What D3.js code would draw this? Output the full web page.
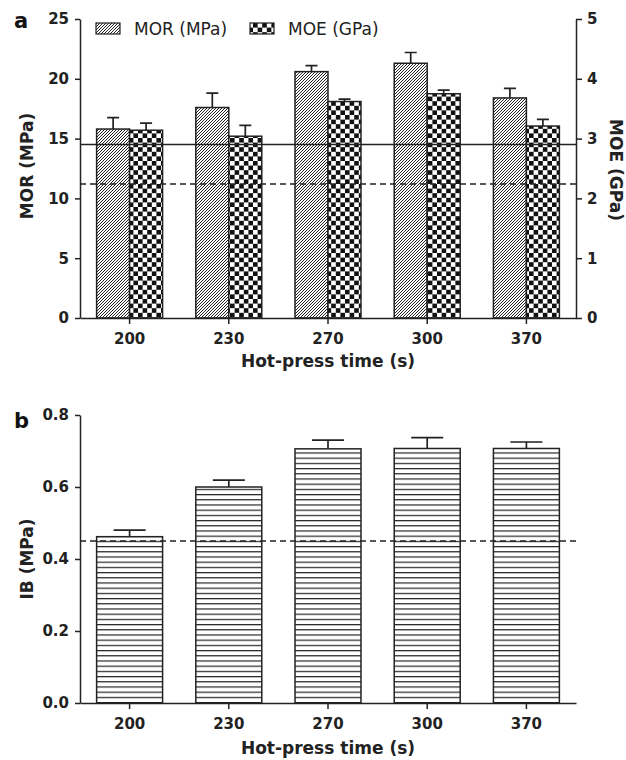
<!DOCTYPE html>
<html>
<head>
<meta charset="utf-8">
<script src="https://cdn.jsdelivr.net/npm/d3@7"></script>
<style>
  body { margin: 0; background: #fff; }
  svg { display: block; }
  .axis path, .axis line { stroke: #222; stroke-width: 1.5; }
  .axis text { font-family: "DejaVu Sans", sans-serif; font-weight: bold; font-size: 15px; fill: #222; }
  .title { font-family: "DejaVu Sans", sans-serif; font-weight: bold; font-size: 17px; fill: #222; }
  .panel { font-family: "DejaVu Sans", sans-serif; font-weight: bold; font-size: 21px; fill: #111; }
  .legend { font-family: "DejaVu Sans", sans-serif; font-size: 17px; fill: #222; }
</style>
</head>
<body>
<script>
// hot-press time groups
var times = ["200", "230", "270", "300", "370"];

// panel a
var morMean = [15.8, 17.6, 20.6, 21.3, 18.4];
var morErr = [0.95, 1.2, 0.5, 0.9, 0.8];
var moeMean = [3.14, 3.04, 3.62, 3.75, 3.21];
var moeErr = [0.12, 0.18, 0.04, 0.06, 0.11];
var morTicks = [0, 5, 10, 15, 20, 25];
var moeTicks = [0, 1, 2, 3, 4, 5];
var morLimit = 14.5;   // solid line, MOR axis
var moeLimit = 2.24;   // dashed line, MOE axis

// panel b
var ibMean = [0.462, 0.60, 0.706, 0.707, 0.707];
var ibErr = [0.018, 0.019, 0.024, 0.03, 0.018];
var ibTicks = [0, 0.2, 0.4, 0.6, 0.8];
var ibLimit = 0.45;

var width = 626, height = 760;
var left = 80, right = 576;

var svg = d3.select("body").append("svg")
  .attr("width", width)
  .attr("height", height);

// fill patterns
var defs = svg.append("defs");

defs.append("pattern")
  .attr("id", "diag")
  .attr("patternUnits", "userSpaceOnUse")
  .attr("width", 3).attr("height", 3)
  .append("path")
  .attr("d", "M-0.75,0.75 l1.5,-1.5 M0,3 l3,-3 M2.25,3.75 l1.5,-1.5")
  .attr("stroke", "#222")
  .attr("stroke-width", 1);

var checker = defs.append("pattern")
  .attr("id", "checker")
  .attr("patternUnits", "userSpaceOnUse")
  .attr("width", 9.2).attr("height", 9.2);
checker.append("rect").attr("width", 9.2).attr("height", 9.2).attr("fill", "#fff");
checker.append("rect").attr("width", 4.6).attr("height", 4.6).attr("fill", "#111");
checker.append("rect").attr("x", 4.6).attr("y", 4.6).attr("width", 4.6).attr("height", 4.6).attr("fill", "#111");

var horiz = defs.append("pattern")
  .attr("id", "horiz")
  .attr("patternUnits", "userSpaceOnUse")
  .attr("width", 6).attr("height", 5.2);
horiz.append("rect").attr("width", 6).attr("height", 5.2).attr("fill", "#fff");
horiz.append("line")
  .attr("x1", 0).attr("x2", 6).attr("y1", 0.6).attr("y2", 0.6)
  .attr("stroke", "#222").attr("stroke-width", 1.2);

// shared x band scale
var x = d3.scaleBand()
  .domain(times)
  .range([left, right])
  .paddingInner(0.335)
  .paddingOuter(0.1675);

function errorBars(g, data, xc, y, half) {
  g.selectAll(null)
    .data(data)
    .enter().append("path")
    .attr("d", function (d) {
      var cx = xc(d), y0 = y(d.v), y1 = y(d.v + d.e);
      return "M" + cx + "," + y0 + "V" + y1 + "M" + (cx - half) + "," + y1 + "H" + (cx + half);
    })
    .attr("fill", "none")
    .attr("stroke", "#222")
    .attr("stroke-width", 1.7);
}

// ---------- panel a ----------
var yMor = d3.scaleLinear().domain([0, 25]).range([318, 19]);
var yMoe = d3.scaleLinear().domain([0, 5]).range([318, 19]);
var sub = x.bandwidth() / 2;

var gA = svg.append("g");

var morData = times.map(function (t, i) { return { t: t, v: morMean[i], e: morErr[i] }; });
var moeData = times.map(function (t, i) { return { t: t, v: moeMean[i], e: moeErr[i] }; });

errorBars(gA, morData, function (d) { return x(d.t) + sub / 2; }, yMor, 6);
errorBars(gA, moeData, function (d) { return x(d.t) + sub * 1.5; }, yMoe, 6);

gA.selectAll(".mor")
  .data(morData)
  .enter().append("rect")
  .attr("class", "mor")
  .attr("x", function (d) { return x(d.t); })
  .attr("y", function (d) { return yMor(d.v); })
  .attr("width", sub)
  .attr("height", function (d) { return yMor(0) - yMor(d.v); })
  .attr("fill", "url(#diag)")
  .attr("stroke", "#222")
  .attr("stroke-width", 1.5);

gA.selectAll(".moe")
  .data(moeData)
  .enter().append("rect")
  .attr("class", "moe")
  .attr("x", function (d) { return x(d.t) + sub; })
  .attr("y", function (d) { return yMoe(d.v); })
  .attr("width", sub)
  .attr("height", function (d) { return yMoe(0) - yMoe(d.v); })
  .attr("fill", "url(#checker)")
  .attr("stroke", "#222")
  .attr("stroke-width", 1.5);

// standard lines
gA.append("line")
  .attr("x1", left).attr("x2", right)
  .attr("y1", yMor(morLimit)).attr("y2", yMor(morLimit))
  .attr("stroke", "#222").attr("stroke-width", 1.5);
gA.append("line")
  .attr("x1", left).attr("x2", right)
  .attr("y1", yMoe(moeLimit)).attr("y2", yMoe(moeLimit))
  .attr("stroke", "#222").attr("stroke-width", 1.5)
  .attr("stroke-dasharray", "6,4");

// axes
gA.append("g")
  .attr("class", "axis")
  .attr("transform", "translate(" + left + ",0)")
  .call(d3.axisLeft(yMor).tickValues(morTicks).tickSize(5).tickSizeOuter(0).tickPadding(6));

gA.append("g")
  .attr("class", "axis")
  .attr("transform", "translate(" + right + ",0)")
  .call(d3.axisRight(yMoe).tickValues(moeTicks).tickFormat(d3.format("d")).tickSize(6).tickSizeOuter(0).tickPadding(5));

gA.append("g")
  .attr("class", "axis")
  .attr("transform", "translate(0," + yMor(0) + ")")
  .call(d3.axisBottom(x).tickSize(6).tickSizeOuter(0).tickPadding(9));

gA.append("text")
  .attr("class", "title")
  .attr("x", (left + right) / 2).attr("y", 367)
  .attr("text-anchor", "middle")
  .text("Hot-press time (s)");

gA.append("text")
  .attr("class", "title")
  .attr("transform", "translate(27,166) rotate(-90)")
  .attr("text-anchor", "middle")
  .attr("dy", "0.35em")
  .text("MOR (MPa)");

gA.append("text")
  .attr("class", "title")
  .attr("transform", "translate(616,170) rotate(90)")
  .attr("text-anchor", "middle")
  .attr("dy", "0.35em")
  .text("MOE (GPa)");

gA.append("text")
  .attr("class", "panel")
  .attr("x", 14).attr("y", 28)
  .text("a");

// legend
var legend = gA.append("g");
var legendItems = [
  { label: "MOR (MPa)", fill: "url(#diag)", x: 96 },
  { label: "MOE (GPa)", fill: "url(#checker)", x: 250 }
];
legend.selectAll("rect")
  .data(legendItems)
  .enter().append("rect")
  .attr("x", function (d) { return d.x; })
  .attr("y", 23)
  .attr("width", 24).attr("height", 11)
  .attr("fill", function (d) { return d.fill; })
  .attr("stroke", "#222").attr("stroke-width", 1.2);
legend.selectAll("text")
  .data(legendItems)
  .enter().append("text")
  .attr("class", "legend")
  .attr("x", function (d) { return d.x + 38; })
  .attr("y", 35)
  .text(function (d) { return d.label; });

// ---------- panel b ----------
var yIb = d3.scaleLinear().domain([0, 0.8]).range([703, 415]);
var gB = svg.append("g");

var ibData = times.map(function (t, i) { return { t: t, v: ibMean[i], e: ibErr[i] }; });

errorBars(gB, ibData, function (d) { return x(d.t) + x.bandwidth() / 2; }, yIb, 16);

gB.selectAll(".ib")
  .data(ibData)
  .enter().append("rect")
  .attr("class", "ib")
  .attr("x", function (d) { return x(d.t); })
  .attr("y", function (d) { return yIb(d.v); })
  .attr("width", x.bandwidth())
  .attr("height", function (d) { return yIb(0) - yIb(d.v); })
  .attr("fill", "url(#horiz)")
  .attr("stroke", "#222")
  .attr("stroke-width", 1.5);

gB.append("line")
  .attr("x1", left).attr("x2", right)
  .attr("y1", yIb(ibLimit)).attr("y2", yIb(ibLimit))
  .attr("stroke", "#222").attr("stroke-width", 1.5)
  .attr("stroke-dasharray", "6,4");

gB.append("g")
  .attr("class", "axis")
  .attr("transform", "translate(" + left + ",0)")
  .call(d3.axisLeft(yIb).tickValues(ibTicks).tickFormat(d3.format(".1f")).tickSize(5).tickSizeOuter(0).tickPadding(6));

gB.append("g")
  .attr("class", "axis")
  .attr("transform", "translate(0," + yIb(0) + ")")
  .call(d3.axisBottom(x).tickSize(6).tickSizeOuter(0).tickPadding(9));

gB.append("text")
  .attr("class", "title")
  .attr("x", (left + right) / 2).attr("y", 754)
  .attr("text-anchor", "middle")
  .text("Hot-press time (s)");

gB.append("text")
  .attr("class", "title")
  .attr("transform", "translate(27,559) rotate(-90)")
  .attr("text-anchor", "middle")
  .attr("dy", "0.35em")
  .text("IB (MPa)");

gB.append("text")
  .attr("class", "panel")
  .attr("x", 14).attr("y", 428)
  .text("b");
</script>
</body>
</html>
